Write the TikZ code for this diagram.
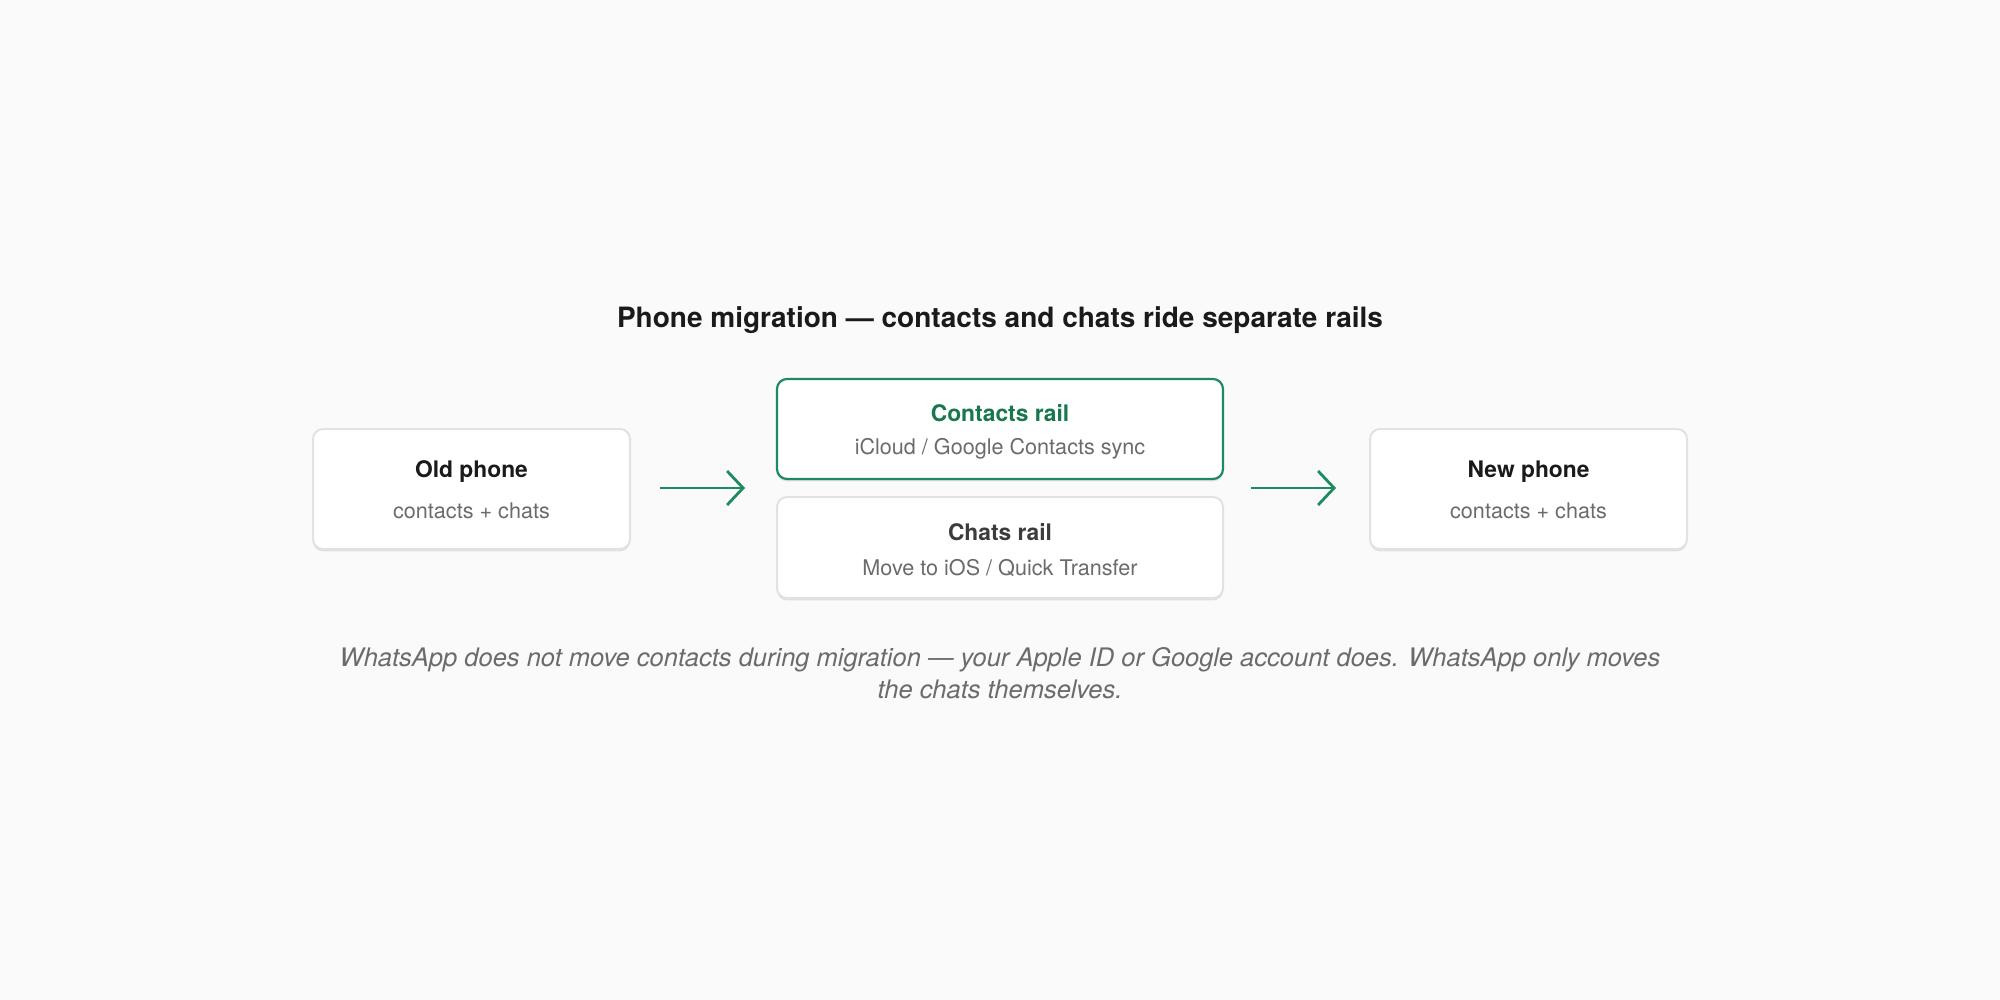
\documentclass[tikz,border=0pt]{standalone}
\usepackage{fontspec}
\setmainfont{TeX Gyre Heros}
\usetikzlibrary{arrows.meta,shadows}
\definecolor{bg}{HTML}{FAFAFA}
\definecolor{ink}{HTML}{1A1A1A}
\definecolor{sub}{HTML}{6B6B6B}
\definecolor{grn}{HTML}{1E8A60}
\definecolor{grntxt}{HTML}{18774F}
\definecolor{edge}{HTML}{E2E2E2}
\tikzset{
  card/.style={draw=edge, line width=1pt, fill=white, rounded corners=5pt,
    drop shadow={shadow xshift=0pt, shadow yshift=-1.2pt, opacity=0.10, fill=black},
    inner sep=0pt},
  hcard/.style={card, draw=grn, line width=1.1pt},
  ttl/.style={font=\fontsize{11.4}{13}\selectfont\bfseries, text=ink, inner sep=0pt, anchor=center},
  subt/.style={font=\fontsize{10.8}{13}\selectfont, text=sub, inner sep=0pt, anchor=center},
  flow/.style={draw=grn, line width=1.4pt, -{Straight Barb[length=8pt, width=17pt, line width=1.4pt]}}
}
\begin{document}
\begin{tikzpicture}[x=0.5pt,y=-0.5pt]
\fill[bg] (0,0) rectangle (2000,1000);
\useasboundingbox (0,0) rectangle (2000,1000);
\node[font=\fontsize{14}{16}\selectfont\bfseries, text=ink, inner sep=0pt] (title) at (1000,320.5) {Phone migration — contacts and chats ride separate rails};

\node[card, minimum width=158.5pt, minimum height=60pt] (old) at (471.5,489) {};
\node[ttl] (oldt) at (471.5,472) {Old phone};
\node[subt] (olds) at (471.5,510.5) {contacts + chats};

\node[hcard, minimum width=223pt, minimum height=50pt] (crail) at (1000,429) {};
\node[ttl, text=grntxt] (crailt) at (1000,413) {Contacts rail};
\node[subt] (crails) at (1000,449) {iCloud / Google Contacts sync};

\node[card, minimum width=223pt, minimum height=50.5pt] (hrail) at (1000,547.5) {};
\node[ttl, text=ink!85] (hrailt) at (1000,532) {Chats rail};
\node[subt] (hrails) at (1000,568) {Move to iOS / Quick Transfer};

\node[card, minimum width=158.5pt, minimum height=60pt] (new) at (1528.5,489) {};
\node[ttl] (newt) at (1528.5,472) {New phone};
\node[subt] (news) at (1528.5,510.5) {contacts + chats};

\coordinate (railw) at (777,488);
\coordinate (raile) at (1223,488);
\draw[flow, shorten <=14.5pt, shorten >=16pt] (old.east |- railw) -- (railw);
\draw[flow, shorten <=14pt, shorten >=16.5pt] (raile) -- (new.west |- raile);

\node[font=\fontsize{12.75}{16}\selectfont\itshape, text=sub, align=center, inner sep=0pt] (note) at (1000,673)
 {WhatsApp does not move contacts during migration — your Apple ID or Google account does. WhatsApp only moves\\the chats themselves.};
\end{tikzpicture}
\end{document}
